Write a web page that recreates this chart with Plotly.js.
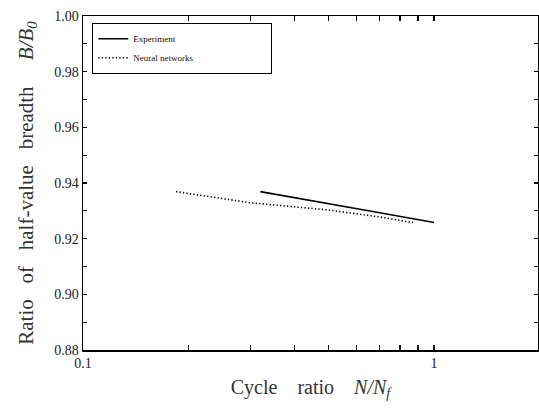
<!DOCTYPE html>
<html>
<head>
<meta charset="utf-8">
<script src="https://cdn.plot.ly/plotly-3.0.1.min.js"></script>
<style>html,body{margin:0;padding:0;background:#fff;}#chart{width:539px;height:409px;}</style>
</head>
<body>
<div id="chart"></div>
<script>
// Data
const expX = [0.32, 0.5, 0.7, 1.0];
const expY = [0.9369, 0.9327, 0.9293, 0.9258];
const nnX = [0.184, 0.3, 0.5, 0.7, 0.87];
const nnY = [0.9369, 0.9329, 0.9303, 0.9278, 0.9258];
const seriesNames = ['Experiment', 'Neural networks'];
const xTickVals = [0.1, 0.2, 0.3, 0.4, 0.5, 0.6, 0.7, 0.8, 0.9, 1, 2];
const xTickText = ['0.1', '', '', '', '', '', '', '', '', '1', ''];
const yTickVals = [0.88, 0.89, 0.90, 0.91, 0.92, 0.93, 0.94, 0.95, 0.96, 0.97, 0.98, 0.99, 1.00];
const yTickText = ['0.88', '', '0.90', '', '0.92', '', '0.94', '', '0.96', '', '0.98', '', '1.00'];

const pad = '\u00A0'.repeat(40);
const serif = 'Liberation Serif, Times New Roman, serif';

const traces = [
  {x: expX, y: expY, mode: 'lines', name: seriesNames[0] + pad,
   line: {color: '#000', width: 1.6, dash: 'solid'}},
  {x: nnX, y: nnY, mode: 'lines', name: seriesNames[1] + pad.slice(0, 28),
   line: {color: '#000', width: 1.6, dash: '1.3px,2.2px'}}
];

const layout = {
  width: 539, height: 409,
  margin: {l: 83, r: 1, t: 16, b: 59},
  paper_bgcolor: '#fff', plot_bgcolor: '#fff',
  font: {family: serif, color: '#111', size: 13},
  showlegend: true,
  legend: {x: 0.02, y: 0.979, xanchor: 'left', yanchor: 'top',
    bgcolor: '#fff', bordercolor: '#000', borderwidth: 1.2,
    font: {family: serif, size: 9, color: '#111'},
    tracegroupgap: 0, itemwidth: 30},
  xaxis: {
    type: 'log', range: [-1, 0.296],
    tickmode: 'array', tickvals: xTickVals, ticktext: xTickText,
    ticks: 'inside', ticklen: 5, tickwidth: 1.3, tickcolor: '#000',
    showgrid: false, zeroline: false,
    showline: true, linecolor: '#000', linewidth: 1.5, mirror: 'ticks',
    tickfont: {family: serif, size: 14, color: '#222'},
    title: {text: 'Cycle\u00A0\u00A0\u00A0 ratio\u00A0\u00A0\u00A0 <i>N/N<sub>f</sub></i>', font: {family: serif, size: 20, color: '#333'}, standoff: 9}
  },
  yaxis: {
    range: [0.88, 1.00],
    tickmode: 'array', tickvals: yTickVals, ticktext: yTickText,
    ticks: 'inside', ticklen: 4, tickwidth: 1.3, tickcolor: '#000',
    showgrid: false, zeroline: false,
    showline: true, linecolor: '#000', linewidth: 1.5, mirror: 'ticks',
    tickfont: {family: serif, size: 14, color: '#222'},
    title: {text: 'Ratio\u00A0\u00A0 of\u00A0\u00A0 half-value\u00A0\u00A0 breadth\u00A0\u00A0\u00A0\u00A0 <i>B/B<sub>0</sub></i>', font: {family: serif, size: 21, color: '#333'}, standoff: 15}
  }
};

Plotly.newPlot('chart', traces, layout, {displayModeBar: false, staticPlot: true});
</script>
</body>
</html>
